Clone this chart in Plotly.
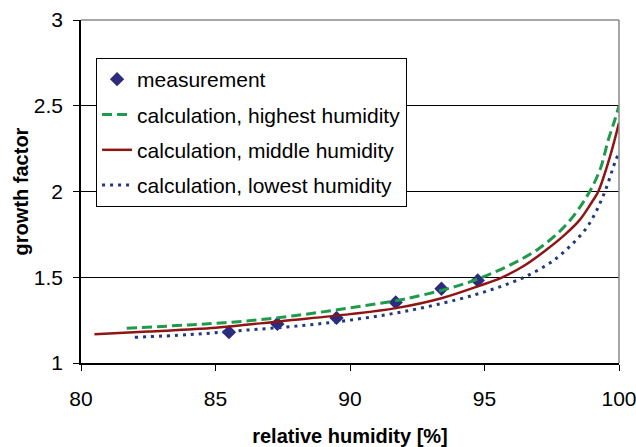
import plotly.graph_objects as go

# measurement
meas_x = [85.5, 87.3, 89.5, 91.7, 93.4, 94.75]
meas_y = [1.18, 1.228, 1.263, 1.353, 1.433, 1.481]

# calculation, highest humidity
high_x = [81.7, 84, 86, 88, 90, 92, 94, 95, 96, 97, 98, 98.8, 99.3, 99.6, 99.85, 100]
high_y = [1.203, 1.222, 1.243, 1.277, 1.322, 1.372, 1.45, 1.505, 1.575, 1.665, 1.80, 1.97, 2.13, 2.30, 2.42, 2.5]

# calculation, middle humidity
mid_x = [80.5, 82.5, 85, 87.5, 90, 91.7, 93.4, 94.8, 95.6, 96.5, 97.3, 98, 98.55, 99.0, 99.23, 99.67, 100]
mid_y = [1.167, 1.183, 1.205, 1.245, 1.285, 1.32, 1.378, 1.45, 1.495, 1.57, 1.66, 1.75, 1.836, 1.94, 2.0, 2.206, 2.40]

# calculation, lowest humidity
low_x = [82.0, 84, 86, 88, 90, 92, 94, 95.3, 96.4, 97.3, 97.9, 98.8, 99.4, 99.85, 99.95]
low_y = [1.15, 1.165, 1.19, 1.215, 1.25, 1.30, 1.37, 1.43, 1.495, 1.57, 1.64, 1.79, 1.97, 2.17, 2.21]

font = "Liberation Sans, Arial, sans-serif"

fig = go.Figure()
fig.add_trace(go.Scatter(x=meas_x, y=meas_y, mode="markers", name="measurement",
                         marker=dict(symbol="diamond", size=11, color="#2e2a7e"),
                         legendgroup="a"))
fig.add_trace(go.Scatter(x=high_x, y=high_y, mode="lines", name="calculation, highest humidity",
                         line=dict(color="#1f9a4a", width=3, dash="10px,5px", shape="spline"),
                         legendgroup="b"))
fig.add_trace(go.Scatter(x=mid_x, y=mid_y, mode="lines", name="calculation, middle humidity",
                         line=dict(color="#8f1515", width=2.5, shape="spline"),
                         legendgroup="c"))
fig.add_trace(go.Scatter(x=low_x, y=low_y, mode="lines", name="calculation, lowest humidity",
                         line=dict(color="#21397a", width=3, dash="3px,5px", shape="spline"),
                         legendgroup="d"))

fig.update_layout(
    width=636, height=447,
    margin=dict(l=81, r=17, t=20, b=84),
    paper_bgcolor="white", plot_bgcolor="white",
    font=dict(family=font, size=21, color="black"),
    legend=dict(x=0.028, y=0.889, xanchor="left", yanchor="top",
                bordercolor="black", borderwidth=1, bgcolor="white",
                tracegroupgap=5, font=dict(size=21), itemwidth=30),
    shapes=[
        dict(type="line", xref="paper", yref="paper", x0=0, x1=1, y0=1, y1=1,
             line=dict(color="#888888", width=1.5), layer="above"),
        dict(type="line", xref="paper", yref="paper", x0=1, x1=1, y0=0, y1=1,
             line=dict(color="#888888", width=1.5), layer="above"),
    ],
)
fig.update_xaxes(range=[80, 100], tickvals=[80, 85, 90, 95, 100], automargin=False,
                 ticklabeloverflow="allow",
                 showline=True, linecolor="black", linewidth=1.5,
                 ticks="outside", ticklen=6, tickcolor="black",
                 showgrid=False, zeroline=False, ticklabelstandoff=10,
                 title=dict(text="<b>relative humidity [%]</b>", standoff=20,
                            font=dict(size=20)))
fig.update_yaxes(range=[1, 3], tickvals=[1, 1.5, 2, 2.5, 3], automargin=False,
                 ticklabeloverflow="allow",
                 showline=True, linecolor="black", linewidth=1.5,
                 ticks="outside", ticklen=6, tickcolor="black",
                 showgrid=True, gridcolor="black", gridwidth=1, zeroline=False,
                 ticklabelstandoff=6,
                 title=dict(text="<b>growth factor</b>", standoff=0,
                            font=dict(size=20)))

fig.write_html("out.html", config={"displayModeBar": False},
               post_script="document.body.style.margin='0';document.body.style.overflow='hidden';")
